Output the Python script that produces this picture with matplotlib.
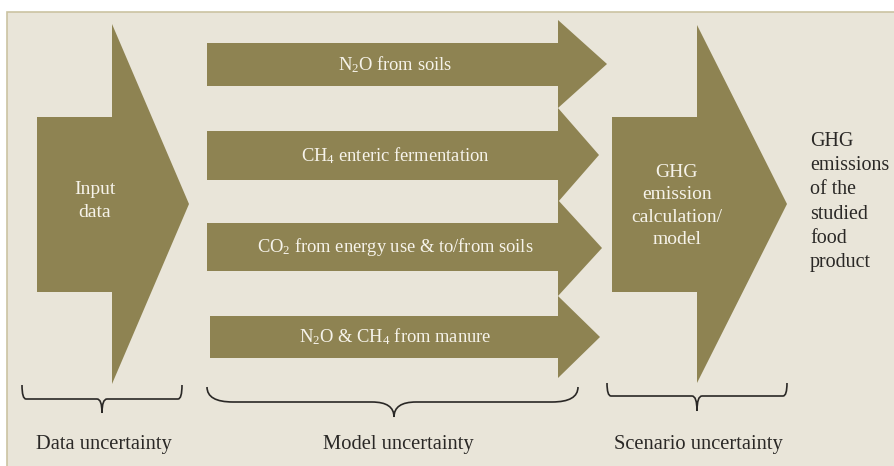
import matplotlib.pyplot as plt
from matplotlib.patches import Polygon, Rectangle, PathPatch
from matplotlib.path import Path

plt.rcParams['font.family'] = ['Liberation Serif', 'DejaVu Serif']
plt.rcParams['mathtext.fontset'] = 'custom'
plt.rcParams['mathtext.rm'] = 'Liberation Serif'
plt.rcParams['mathtext.it'] = 'Liberation Serif:italic'

# texts
input_label = "Input\ndata"
model_labels = [r"N$_2$O from soils",
                r"CH$_4$ enteric fermentation",
                r"CO$_2$ from energy use & to/from soils",
                r"N$_2$O & CH$_4$ from manure"]
calc_label = "GHG\nemission\ncalculation/\nmodel"
result_label = "GHG\nemissions\nof the\nstudied\nfood\nproduct"
uncertainty_labels = ["Data uncertainty", "Model uncertainty", "Scenario uncertainty"]

# geometry (pixel units, y downwards)
# small arrows: body left, body top, body bottom, head base, head top, head bottom, tip
small_left = [207, 207, 207, 210]
small_top = [43, 131, 223, 316]
small_bot = [86, 180, 271, 358]
small_head_x = [558, 558, 558, 558]
small_head_top = [20, 108, 200, 296]
small_head_bot = [108, 202, 296, 378]
small_tip = [607, 599, 602, 600]

# big arrows: left (input) and right (calculation)
big_left = [37, 612]
big_top = [117, 117]
big_bot = [292, 292]
big_head_x = [112, 697]
big_head_top = [24, 25]
big_head_bot = [384, 383]
big_tip = [189, 787]

# braces: left end, right end, top, middle line, tip, centre, corner radius
brace_l = [22, 207, 607]
brace_r = [182, 578, 787]
brace_top = [385, 387, 383]
brace_mid = [399, 402, 396]
brace_tip = [413, 417, 411]
brace_c = [102, 394, 697]
brace_rad = [4, 26, 4]
brace_crad = [5, 22, 5]
label_x = [104, 398, 698]

ARROW = '#8e8352'
BG = '#e9e5d9'
EDGE = '#cbc3a2'
DARK = '#2a2826'
LIGHT = '#f6f3ea'

fig = plt.figure(figsize=(8.94, 4.66), dpi=100)
ax = fig.add_axes([0, 0, 1, 1])
ax.set_xlim(0, 894)
ax.set_ylim(466, 0)
ax.axis('off')

ax.add_patch(Rectangle((7, 12), 900, 470, facecolor=BG, edgecolor=EDGE, linewidth=1.2))


def arrow(x0, top, bot, hx, htop, hbot, tip):
    mid = (htop + hbot) / 2
    pts = [(x0, top), (hx, top), (hx, htop), (tip, mid), (hx, hbot), (hx, bot), (x0, bot)]
    ax.add_patch(Polygon(pts, closed=True, facecolor=ARROW, edgecolor='none'))


for i in range(2):
    arrow(big_left[i], big_top[i], big_bot[i], big_head_x[i], big_head_top[i], big_head_bot[i], big_tip[i])

for i in range(4):
    arrow(small_left[i], small_top[i], small_bot[i], small_head_x[i], small_head_top[i], small_head_bot[i], small_tip[i])
    yc = (small_top[i] + small_bot[i]) / 2
    ax.text(395, yc, model_labels[i], color=LIGHT, fontsize=13.3, ha='center', va='center')

ax.text(95, 201, input_label, color=LIGHT, fontsize=14, ha='center', va='center', linespacing=1.45)
ax.text(677, 206, calc_label, color=LIGHT, fontsize=14, ha='center', va='center', linespacing=1.43)
ax.text(810, 202, result_label, color=DARK, fontsize=14.4, ha='left', va='center', linespacing=1.37)


def brace(xl, xr, yt, ym, ytip, xc, r, cr):
    verts = [(xl, yt), (xl, ym), (xl + r, ym),
             (xc - cr, ym), (xc, ym), (xc, ytip),
             (xc, ym), (xc + cr, ym),
             (xr - r, ym), (xr, ym), (xr, yt)]
    codes = [Path.MOVETO, Path.CURVE3, Path.CURVE3,
             Path.LINETO, Path.CURVE3, Path.CURVE3,
             Path.CURVE3, Path.CURVE3,
             Path.LINETO, Path.CURVE3, Path.CURVE3]
    ax.add_patch(PathPatch(Path(verts, codes), facecolor='none', edgecolor=DARK, linewidth=1.2))


for i in range(3):
    brace(brace_l[i], brace_r[i], brace_top[i], brace_mid[i], brace_tip[i], brace_c[i], brace_rad[i], brace_crad[i])
    ax.text(label_x[i], 445, uncertainty_labels[i], color=DARK, fontsize=14.8, ha='center', va='center')

fig.savefig('out.png', dpi=100, facecolor='white')
